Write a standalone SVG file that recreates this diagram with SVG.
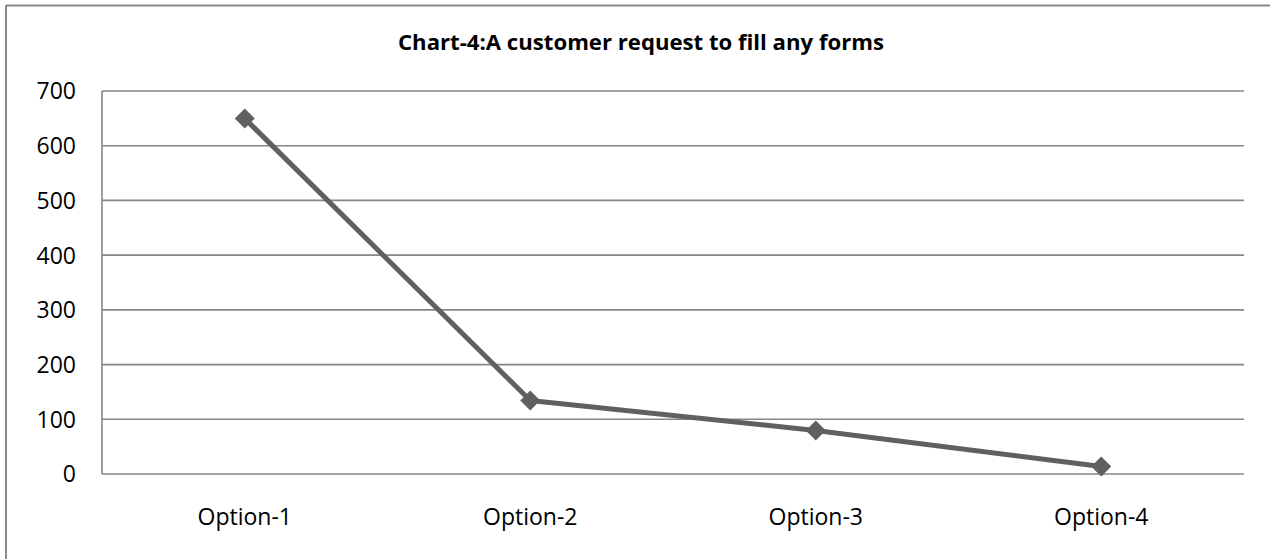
<svg xmlns="http://www.w3.org/2000/svg" width="1270" height="559" viewBox="0 0 1270 559">
<style>
.grid{stroke:#868686;stroke-width:1.6;fill:none}
.axl{font-family:"Open Sans","Liberation Sans",sans-serif;font-size:23px;fill:#000}
.title{font-family:"Open Sans","Liberation Sans",sans-serif;font-size:21.5px;font-weight:bold;fill:#000}
.series{stroke:#606060;stroke-width:5;fill:none;stroke-linejoin:round}
.mk{fill:#606060}
</style>
<defs>
<path id="dia" d="M0,-10 L10,0 L0,10 L-10,0 Z"/>
</defs>
<rect width="1270" height="559" fill="#fff"/>
<g id="frame">
<line x1="6" y1="5.5" x2="1270" y2="5.5" stroke="#8a8a8a" stroke-width="2"/>
<line x1="6" y1="5" x2="6" y2="559" stroke="#8a8a8a" stroke-width="2"/>
</g>
<g id="title"><text class="title" x="641" y="50" text-anchor="middle" textLength="486" lengthAdjust="spacingAndGlyphs">Chart-4:A customer request to fill any forms</text></g>
<g id="gridlines">
<line class="grid" x1="102" y1="91" x2="1244" y2="91"/>
<line class="grid" x1="102" y1="145.7" x2="1244" y2="145.7"/>
<line class="grid" x1="102" y1="200.4" x2="1244" y2="200.4"/>
<line class="grid" x1="102" y1="255.1" x2="1244" y2="255.1"/>
<line class="grid" x1="102" y1="309.9" x2="1244" y2="309.9"/>
<line class="grid" x1="102" y1="364.6" x2="1244" y2="364.6"/>
<line class="grid" x1="102" y1="419.3" x2="1244" y2="419.3"/>
<line class="grid" x1="102" y1="474" x2="1244" y2="474"/>
<line class="grid" x1="102" y1="91" x2="102" y2="474"/>
</g>
<g id="yaxis-labels">
<text class="axl" x="76" y="99.4" text-anchor="end">700</text>
<text class="axl" x="76" y="154.1" text-anchor="end">600</text>
<text class="axl" x="76" y="208.8" text-anchor="end">500</text>
<text class="axl" x="76" y="263.5" text-anchor="end">400</text>
<text class="axl" x="76" y="318.3" text-anchor="end">300</text>
<text class="axl" x="76" y="373" text-anchor="end">200</text>
<text class="axl" x="76" y="427.7" text-anchor="end">100</text>
<text class="axl" x="76" y="482.4" text-anchor="end">0</text>
</g>
<g id="xaxis-labels">
<text class="axl" x="244.75" y="525" text-anchor="middle">Option-1</text>
<text class="axl" x="530.25" y="525" text-anchor="middle">Option-2</text>
<text class="axl" x="815.75" y="525" text-anchor="middle">Option-3</text>
<text class="axl" x="1101.25" y="525" text-anchor="middle">Option-4</text>
</g>
<g id="connectors">
<polyline class="series" points="244.75,118.5 530.25,400.5 815.75,430.5 1101.25,466.5"/>
</g>
<g id="markers">
<use href="#dia" class="mk" x="244.75" y="118.5"/>
<use href="#dia" class="mk" x="530.25" y="400.5"/>
<use href="#dia" class="mk" x="815.75" y="430.5"/>
<use href="#dia" class="mk" x="1101.25" y="466.5"/>
</g>
</svg>
